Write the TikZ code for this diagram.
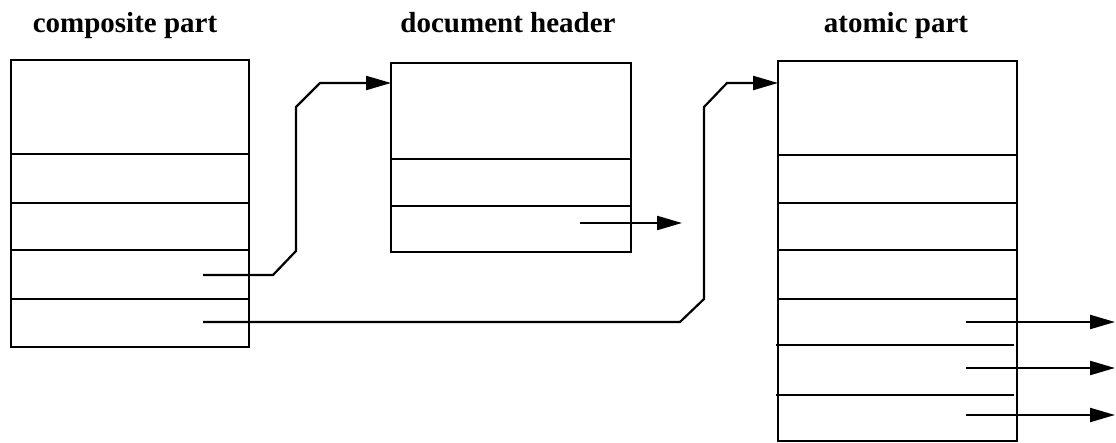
\documentclass[tikz,border=0pt]{standalone}
\usepackage{fontspec}
\setmainfont{Liberation Serif}
\usetikzlibrary{arrows.meta}
\begin{document}
\begin{tikzpicture}[x=1pt,y=-1pt,line width=2.2pt,
  record/.style={draw,rectangle,inner sep=0pt,outer sep=0pt},
  title/.style={anchor=base,inner sep=0pt,font=\fontsize{29}{34}\selectfont\bfseries},
  link/.style={-{Triangle[length=25pt,width=14pt]},line join=miter}]
\useasboundingbox (0,0) rectangle (1116,443);

% titles
\node[title] (tcp) at (125,33) {composite part};
\node[title] (tdh) at (508,33) {document header};
\node[title] (tap) at (896,33) {atomic part};

% composite part record
\node[record,minimum width=238pt,minimum height=287pt] (cp) at (130,203.5) {};
\foreach \yy in {154,203,250,299}
  \draw (cp.west |- 0,\yy) -- (cp.east |- 0,\yy);

% document header record
\node[record,minimum width=240pt,minimum height=189pt] (dh) at (511,157.5) {};
\foreach \yy in {159,206}
  \draw (dh.west |- 0,\yy) -- (dh.east |- 0,\yy);

% atomic part record
\node[record,minimum width=239pt,minimum height=380pt] (ap) at (897.5,251) {};
\foreach \yy in {155,203,250,299}
  \draw (ap.west |- 0,\yy) -- (ap.east |- 0,\yy);
\foreach \yy in {345,395}
  \draw (776,\yy) -- (1014,\yy);

% pointer from composite part to document header
\coordinate (s1) at (203,275);
\coordinate (s1a) at (273,275);
\coordinate (s1b) at (296,251);
\coordinate (s1c) at (296,107);
\coordinate (s1d) at (320,83);
\draw[link] (s1) -- (s1a) -- (s1b) -- (s1c) -- (s1d) -- (dh.west |- s1d);

% pointer from composite part to atomic part
\coordinate (s2) at (203,322);
\coordinate (s2a) at (680,322);
\coordinate (s2b) at (704,299);
\coordinate (s2c) at (704,107);
\coordinate (s2d) at (727,83);
\draw[link] (s2) -- (s2a) -- (s2b) -- (s2c) -- (s2d) -- (ap.west |- s2d);

% outgoing pointer of the document header
\coordinate (s3) at (580,223);
\coordinate (e3) at (682,223);
\draw[link] (s3) -- (e3);

% outgoing pointers of the atomic part
\foreach \yy [count=\k] in {322,368,415} {
  \coordinate (a\k) at (966,\yy);
  \coordinate (b\k) at (1115,\yy);
  \draw[link] (a\k) -- (b\k);
}
\end{tikzpicture}
\end{document}
